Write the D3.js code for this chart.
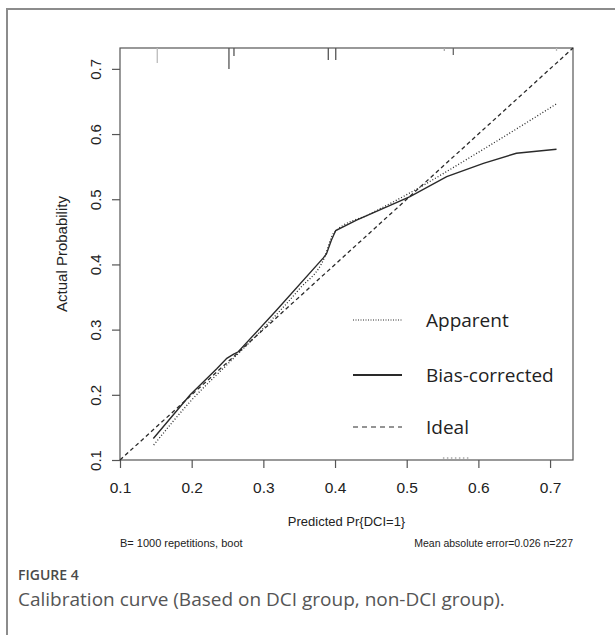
<!DOCTYPE html>
<html><head><meta charset="utf-8">
<script src="https://cdn.jsdelivr.net/npm/d3@7"></script>
<style>body{margin:0;background:#fff;}svg{display:block;}</style>
</head><body>
<script>
// Data
const xTicks = [0.1,0.2,0.3,0.4,0.5,0.6,0.7];
const yTicks = [0.1,0.2,0.3,0.4,0.5,0.6,0.7];
const apparentX = [0.147,0.2,0.25,0.3,0.35,0.385,0.398,0.45,0.5,0.6,0.71];
const apparentY = [0.123,0.192,0.247,0.302,0.362,0.41,0.448,0.478,0.507,0.572,0.647];
const biasX = [0.1465,0.198,0.235,0.249,0.258,0.265,0.3186,0.3837,0.388,0.395,0.401,0.43,0.5046,0.5558,0.607,0.653,0.709];
const biasY = [0.133,0.20,0.24,0.256,0.262,0.266,0.330,0.410,0.416,0.4375,0.452,0.468,0.504,0.5346,0.555,0.5705,0.5766];
const ideal = [0.1,0.732];
const rugX = [0.152,0.252,0.259,0.3906,0.401,0.5525,0.565,0.709];
const rugLen = [15,21,8,12,12,3,7,3];
const rugColor = ["#bbb","#555","#555","#555","#555","#aaa","#666","#bbb"];
const legendLabels = ["Apparent","Bias-corrected","Ideal"];

const W=615,H=635;
const svg=d3.select("body").append("svg").attr("width",W).attr("height",H);
svg.append("rect").attr("x",7).attr("y",9).attr("width",W).attr("height",H).attr("fill","none").attr("stroke","#8c8c8c").attr("stroke-width",2);

const L=120,R=573,T=48,B=460;
const x=d3.scaleLinear().domain([0.1,0.732]).range([L,R]);
const y=d3.scaleLinear().domain([0.1,0.732]).range([B,T]);
const axisCol="#555";
const sans="Liberation Sans, Arial, sans-serif";

// box
svg.append("rect").attr("x",L).attr("y",T).attr("width",R-L).attr("height",B-T).attr("fill","none").attr("stroke",axisCol).attr("stroke-width",1.2);

// x axis
const xa=svg.append("g").attr("transform",`translate(0,${B})`).call(d3.axisBottom(x).tickValues(xTicks).tickSize(8).tickFormat(d3.format(".1f")));
xa.select(".domain").remove();
xa.selectAll("line").attr("stroke",axisCol).attr("stroke-width",1.2);
xa.selectAll("text").attr("font-family",sans).attr("font-size",15.5).attr("fill","#222").attr("dy",null).attr("y",33);

// y axis
const ya=svg.append("g").attr("transform",`translate(${L},0)`).call(d3.axisLeft(y).tickValues(yTicks).tickSize(8).tickFormat(d3.format(".1f")));
ya.select(".domain").remove();
ya.selectAll("line").attr("stroke",axisCol).attr("stroke-width",1.2);
ya.selectAll("text").attr("font-family",sans).attr("font-size",15).attr("fill","#222")
  .attr("x",null).attr("dy",null).attr("text-anchor","middle")
  .attr("transform","translate(-19,0) rotate(-90)");

// axis titles
svg.append("text").attr("transform",`translate(67,${(T+B)/2}) rotate(-90)`).attr("text-anchor","middle")
  .attr("font-family",sans).attr("font-size",15).attr("fill","#222").text("Actual Probability");
svg.append("text").attr("x",(L+R)/2).attr("y",526).attr("text-anchor","middle")
  .attr("font-family",sans).attr("font-size",13).attr("fill","#222").text("Predicted Pr{DCI=1}");
svg.append("text").attr("x",L).attr("y",547).attr("font-family",sans).attr("font-size",11).attr("fill","#222").text("B= 1000 repetitions, boot");
svg.append("text").attr("x",R).attr("y",547).attr("text-anchor","end").attr("font-family",sans).attr("font-size",10.5).attr("fill","#222").text("Mean absolute error=0.026 n=227");

// rug
svg.append("g").selectAll("line").data(rugX).join("line")
  .attr("x1",d=>x(d)).attr("x2",d=>x(d)).attr("y1",T).attr("y2",(d,i)=>T+rugLen[i])
  .attr("stroke",(d,i)=>rugColor[i]).attr("stroke-width",1.3);
// small dotted mark at bottom
svg.append("line").attr("x1",x(0.5505)).attr("x2",x(0.589)).attr("y1",B-2).attr("y2",B-2)
  .attr("stroke","#777").attr("stroke-width",1).attr("stroke-dasharray","1.5,2.5");

const line=d3.line().x(d=>x(d[0])).y(d=>y(d[1]));
const lineCol="#2a2a2a";
// ideal
svg.append("path").attr("d",line(ideal.map(v=>[v,v]))).attr("fill","none").attr("stroke",lineCol).attr("stroke-width",1.3).attr("stroke-dasharray","4,3");
// apparent
svg.append("path").attr("d",d3.line().curve(d3.curveMonotoneX).x(d=>x(d[0])).y(d=>y(d[1]))(apparentX.map((v,i)=>[v,apparentY[i]])))
  .attr("fill","none").attr("stroke",lineCol).attr("stroke-width",1.3).attr("stroke-dasharray","1,2");
// bias corrected
svg.append("path").attr("d",d3.line().x(d=>x(d[0])).y(d=>y(d[1]))(biasX.map((v,i)=>[v,biasY[i]])))
  .attr("fill","none").attr("stroke",lineCol).attr("stroke-width",1.4);

// legend
const legY=[320,375,427];
const dashes=["1,1.5",null,"5,4"];
const widths=[1.2,2.2,1.2];
legendLabels.forEach((lab,i)=>{
  svg.append("line").attr("x1",353).attr("x2",402).attr("y1",legY[i]).attr("y2",legY[i])
    .attr("stroke",lineCol).attr("stroke-width",widths[i]).attr("stroke-dasharray",dashes[i]);
  svg.append("text").attr("x",426).attr("y",legY[i]+7).attr("font-family","Open Sans, sans-serif").attr("font-size",19).attr("fill","#222").text(lab);
});

// caption
svg.append("text").attr("x",18).attr("y",580).attr("font-family","Open Sans, sans-serif").attr("font-size",14).attr("font-weight",600).attr("fill","#4a4a4a").text("FIGURE 4");
svg.append("text").attr("x",18).attr("y",606).attr("font-family","Open Sans, sans-serif").attr("font-size",19).attr("fill","#555").text("Calibration curve (Based on DCI group, non-DCI group).");
</script>
</body></html>
